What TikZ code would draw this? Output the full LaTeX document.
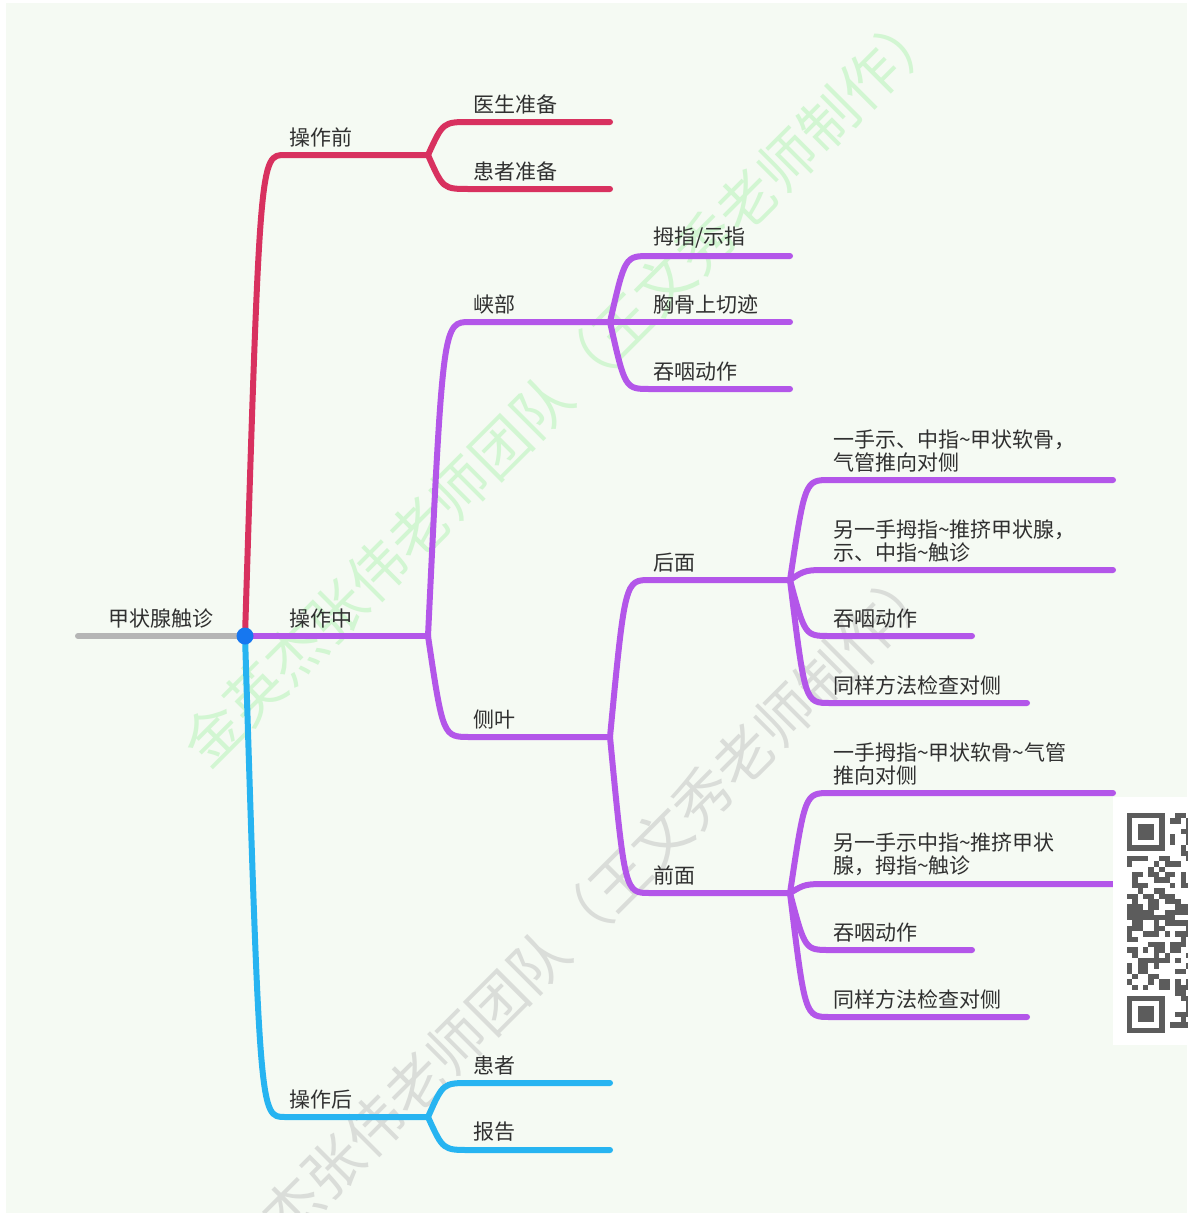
\documentclass[tikz,border=0pt]{standalone}
\usepackage{fontspec}
\setmainfont{Noto Sans CJK SC}
\usetikzlibrary{calc,positioning}
\definecolor{paper}{HTML}{F5FAF3}
\definecolor{ink}{HTML}{303030}
\definecolor{crimson}{HTML}{D8315F}
\definecolor{violet}{HTML}{B356E9}
\definecolor{sky}{HTML}{27B4F1}
\definecolor{rootgray}{HTML}{B5B5B5}
\definecolor{hubblue}{HTML}{1677F0}
\definecolor{stampgreen}{HTML}{D2F6D2}
\definecolor{stampgray}{HTML}{DADDD9}
\definecolor{qrgray}{HTML}{5C5C5C}
\newcommand{\branchto}[4]{\draw[#1] (#2) .. controls ($(#2 |- #3)+(15,0)$) .. (#3) -- (#4);}

\begin{document}
\begin{tikzpicture}[x=1pt, y=-1pt,
    limb/.style={line width=6pt, line cap=round},
    topic/.style={inner sep=0pt, text=ink, font=\fontsize{21}{23}\selectfont, align=left},
    stamp/.style={inner sep=0pt, font=\fontsize{58}{60}\selectfont, rotate=45}]
  \useasboundingbox (0,0) rectangle (1187,1213);
  \fill[white] (0,0) rectangle (1187,1213);
  \fill[paper] (6,3) rectangle (1187,1213);

  \node[stamp, text=stampgreen] (stamp-a) at (562,386) {金英杰张伟老师团队（王文秀老师制作）};
  \node[stamp, text=stampgray] (stamp-b) at (559,941) {金英杰张伟老师团队（王文秀老师制作）};

  \coordinate (root) at (245,636);
  \coordinate (root-w) at (78,636);
  \coordinate (root-m) at (161,636);
  \coordinate (pre) at (285,155);    \coordinate (pre-e) at (428,155);
  \coordinate (mid) at (285,636);    \coordinate (mid-e) at (428,636);
  \coordinate (post) at (285,1117);  \coordinate (post-e) at (428,1117);
  \coordinate (doc) at (470,122);    \coordinate (doc-e) at (610,122);
  \coordinate (pat) at (470,189);    \coordinate (pat-e) at (610,189);
  \coordinate (isth) at (470,322);   \coordinate (isth-e) at (610,322);
  \coordinate (lobe) at (470,737);   \coordinate (lobe-e) at (610,737);
  \coordinate (subj) at (470,1083);  \coordinate (subj-e) at (610,1083);
  \coordinate (rep) at (470,1150);   \coordinate (rep-e) at (610,1150);
  \coordinate (thumb) at (650,256);  \coordinate (thumb-e) at (790,256);
  \coordinate (notch) at (650,322);  \coordinate (notch-e) at (790,322);
  \coordinate (swal) at (650,389);   \coordinate (swal-e) at (790,389);
  \coordinate (back) at (650,580);   \coordinate (back-e) at (790,580);
  \coordinate (front) at (650,893);  \coordinate (front-e) at (790,893);
  \coordinate (b1) at (830,480);  \coordinate (b1-e) at (1113,480);
  \coordinate (b2) at (830,570);  \coordinate (b2-e) at (1113,570);
  \coordinate (b3) at (830,636);  \coordinate (b3-e) at (972,636);
  \coordinate (b4) at (830,703);  \coordinate (b4-e) at (1027,703);
  \coordinate (f1) at (830,793);  \coordinate (f1-e) at (1113,793);
  \coordinate (f2) at (830,884);  \coordinate (f2-e) at (1113,884);
  \coordinate (f3) at (830,950);  \coordinate (f3-e) at (972,950);
  \coordinate (f4) at (830,1017); \coordinate (f4-e) at (1027,1017);

  \draw[limb, rootgray] (root-w) -- (root);
  \branchto{limb, crimson}{root}{pre}{pre-e}
  \branchto{limb, crimson}{pre-e}{doc}{doc-e}
  \branchto{limb, crimson}{pre-e}{pat}{pat-e}
  \branchto{limb, violet}{root}{mid}{mid-e}
  \branchto{limb, violet}{mid-e}{isth}{isth-e}
  \branchto{limb, violet}{mid-e}{lobe}{lobe-e}
  \branchto{limb, violet}{isth-e}{thumb}{thumb-e}
  \branchto{limb, violet}{isth-e}{notch}{notch-e}
  \branchto{limb, violet}{isth-e}{swal}{swal-e}
  \branchto{limb, violet}{lobe-e}{back}{back-e}
  \branchto{limb, violet}{lobe-e}{front}{front-e}
  \branchto{limb, violet}{back-e}{b1}{b1-e}
  \branchto{limb, violet}{back-e}{b2}{b2-e}
  \branchto{limb, violet}{back-e}{b3}{b3-e}
  \branchto{limb, violet}{back-e}{b4}{b4-e}
  \branchto{limb, violet}{front-e}{f1}{f1-e}
  \branchto{limb, violet}{front-e}{f2}{f2-e}
  \branchto{limb, violet}{front-e}{f3}{f3-e}
  \branchto{limb, violet}{front-e}{f4}{f4-e}
  \branchto{limb, sky}{root}{post}{post-e}
  \branchto{limb, sky}{post-e}{subj}{subj-e}
  \branchto{limb, sky}{post-e}{rep}{rep-e}

  \node[topic, above=8pt of root-m] (root-l) {甲状腺触诊};
  \node[topic, above right=8pt and 4pt of pre] (pre-l) {操作前};
  \node[topic, above right=8pt and 4pt of mid] (mid-l) {操作中};
  \node[topic, above right=8pt and 4pt of post] (post-l) {操作后};
  \node[topic, above right=8pt and 3pt of doc] (doc-l) {医生准备};
  \node[topic, above right=8pt and 3pt of pat] (pat-l) {患者准备};
  \node[topic, above right=8pt and 3pt of isth] (isth-l) {峡部};
  \node[topic, above right=8pt and 3pt of lobe] (lobe-l) {侧叶};
  \node[topic, above right=8pt and 3pt of subj] (subj-l) {患者};
  \node[topic, above right=8pt and 3pt of rep] (rep-l) {报告};
  \node[topic, above right=8pt and 3pt of thumb] (thumb-l) {拇指/示指};
  \node[topic, above right=8pt and 3pt of notch] (notch-l) {胸骨上切迹};
  \node[topic, above right=8pt and 3pt of swal] (swal-l) {吞咽动作};
  \node[topic, above right=8pt and 3pt of back] (back-l) {后面};
  \node[topic, above right=8pt and 3pt of front] (front-l) {前面};
  \node[topic, above right=8pt and 3pt of b1] (b1-l) {一手示、中指\textasciitilde 甲状软骨，\\气管推向对侧};
  \node[topic, above right=8pt and 3pt of b2] (b2-l) {另一手拇指\textasciitilde 推挤甲状腺，\\示、中指\textasciitilde 触诊};
  \node[topic, above right=8pt and 3pt of b3] (b3-l) {吞咽动作};
  \node[topic, above right=8pt and 3pt of b4] (b4-l) {同样方法检查对侧};
  \node[topic, above right=8pt and 3pt of f1] (f1-l) {一手拇指\textasciitilde 甲状软骨\textasciitilde 气管\\推向对侧};
  \node[topic, above right=8pt and 3pt of f2] (f2-l) {另一手示中指\textasciitilde 推挤甲状\\腺，拇指\textasciitilde 触诊};
  \node[topic, above right=8pt and 3pt of f3] (f3-l) {吞咽动作};
  \node[topic, above right=8pt and 3pt of f4] (f4-l) {同样方法检查对侧};

  \node[circle, fill=hubblue, minimum size=17pt, inner sep=0pt] (hub) at (root) {};

  \fill[white] (1113,797) rectangle (1187,1045);
  \pgfmathsetseed{42}
  \foreach \c in {0,...,11}{
    \foreach \r in {0,...,40}{
      \pgfmathrandominteger{\qbit}{0}{1}
      \ifnum\qbit=1 \fill[qrgray] ({1127+5.37*\c},{813+5.37*\r}) rectangle +(5.37,5.37);\fi
    }
  }
  \foreach \r in {0,33}{
    \fill[white] ({1127},{813+5.37*\r}) rectangle +(42.96,42.96);
  }
  \foreach \r in {0,34}{
    \fill[qrgray] ({1127},{813+5.37*\r}) rectangle +(37.59,37.59);
    \fill[white] ({1127+5.37},{813+5.37*(\r+1)}) rectangle +(26.85,26.85);
    \fill[qrgray] ({1127+10.74},{813+5.37*(\r+2)}) rectangle +(16.11,16.11);
  }
\end{tikzpicture}
\end{document}
